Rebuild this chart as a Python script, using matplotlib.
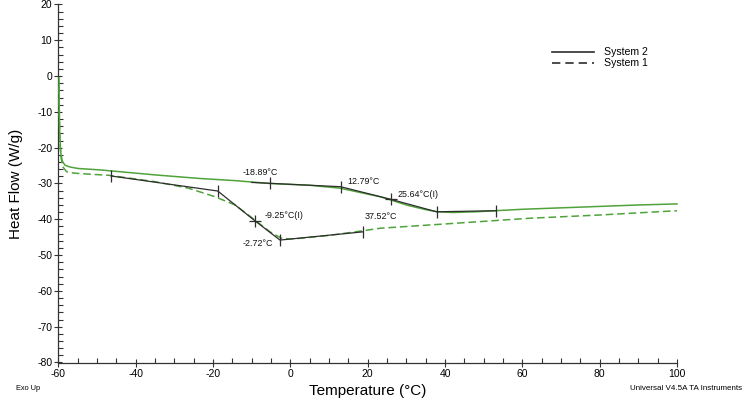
import numpy as np
import matplotlib
matplotlib.use("Agg")
import matplotlib.pyplot as plt
from matplotlib.ticker import MultipleLocator

plt.rcParams['font.family'] = ['Liberation Sans', 'DejaVu Sans']
plt.rcParams['axes.unicode_minus'] = False

# System 2 (solid trace)
sys2_t = [-59.85, -59.8, -59.65, -59.4, -59.0, -58.3, -57.0, -55.0, -49.3, -35.0, -23.4, -14.3,
          -5.3, 5.0, 12.8, 18.0, 23.2, 26.0, 30.0, 35.0, 38.0, 42.0, 48.0, 53.0, 60.0, 70.0,
          80.0, 90.0, 100.0]
sys2_hf = [-0.5, -10.0, -17.0, -21.5, -23.8, -24.9, -25.4, -25.8, -26.2, -27.6, -28.6, -29.2,
           -30.0, -30.5, -31.3, -32.5, -33.7, -34.6, -36.0, -37.3, -37.9, -38.1, -37.9, -37.6,
           -37.2, -36.8, -36.4, -36.0, -35.7]

# System 1 (dashed trace)
sys1_t = [-59.85, -59.75, -59.6, -59.3, -58.9, -57.9, -56.0, -52.0, -47.0, -35.0, -26.4, -19.5,
          -14.3, -9.2, -5.3, -2.3, 0.0, 2.5, 10.0, 18.8, 23.2, 40.0, 62.0, 80.0, 100.0]
sys1_hf = [-3.0, -12.0, -19.0, -23.0, -25.3, -26.7, -27.1, -27.4, -27.7, -29.5, -31.3, -33.7,
           -36.0, -40.2, -43.5, -45.3, -45.5, -45.3, -44.5, -43.2, -42.5, -41.3, -39.7, -38.8,
           -37.6]

# analysis construction lines (onset / midpoint / end)
tan1_t = [-46.4, -18.8, -9.2, -2.7, 18.8]
tan1_hf = [-27.9, -32.1, -40.4, -45.8, -43.5]
tan2_t = [-10.0, -5.3, 13.0, 25.9, 37.8, 53.3]
tan2_hf = [-29.7, -29.95, -30.9, -34.4, -37.9, -37.6]

tick_t = [-46.4, -18.8, -2.7, 18.8, -5.3, 13.0, 37.8, 53.3]
tick_hf = [-27.9, -32.1, -45.8, -43.5, -29.95, -30.9, -37.9, -37.6]
mid_t = [-9.2, 25.9]
mid_hf = [-40.4, -34.4]

labels = ["-18.89°C", "12.79°C", "25.64°C(I)", "-9.25°C(I)", "37.52°C", "-2.72°C"]
label_t = [-12.3, 14.6, 27.6, -6.8, 19.1, -12.3]
label_hf = [-27.0, -29.4, -33.2, -38.8, -39.1, -46.7]

legend_names = ["System 2", "System 1"]
legend_hf = [6.8, 3.6]

green = '#4fa33a'
dark = '#2e2e2e'

fig = plt.figure(figsize=(7.45, 4.0), dpi=100)
ax = fig.add_axes([0.0785, 0.09375, 0.8302, 0.895])

ax.plot(sys1_t, sys1_hf, color=green, lw=1.1, ls=(0, (5, 2.5)), clip_on=False, zorder=3)
ax.plot(sys2_t, sys2_hf, color=green, lw=1.1, clip_on=False, zorder=3)
ax.plot(tan1_t, tan1_hf, color=dark, lw=0.9, zorder=4)
ax.plot(tan2_t, tan2_hf, color=dark, lw=0.9, zorder=4)
ax.plot(tick_t, tick_hf, ls='none', marker='|', ms=8, mew=0.9, color=dark, zorder=4)
ax.plot(mid_t, mid_hf, ls='none', marker='+', ms=9, mew=0.9, color=dark, zorder=4)

for s, x, y in zip(labels, label_t, label_hf):
    ax.text(x, y, s, fontsize=6.4, ha='left', va='center', color='#111111')

# legend drawn by hand in the style of the instrument software
styles = ['-', (0, (5, 3))]
for name, y, st in zip(legend_names, legend_hf, styles):
    ax.plot([67.6, 78.5], [y, y], color=dark, lw=1.2, ls=st)
    ax.text(81.1, y, name, fontsize=7.6, va='center', ha='left')

ax.set_xlim(-60, 100)
ax.set_ylim(-80, 20)
ax.xaxis.set_major_locator(MultipleLocator(20))
ax.xaxis.set_minor_locator(MultipleLocator(5))
ax.yaxis.set_major_locator(MultipleLocator(10))
ax.yaxis.set_minor_locator(MultipleLocator(2))

for sp in ['top', 'right']:
    ax.spines[sp].set_visible(False)
for sp in ['left', 'bottom']:
    ax.spines[sp].set_color('#333333')
    ax.spines[sp].set_linewidth(0.9)

ax.tick_params(which='major', direction='inout', length=6, width=0.8, color='#333333',
               labelsize=7.5, pad=1.5)
ax.tick_params(which='minor', direction='in', length=3.5, width=0.8, color='#333333')

ax.set_xlabel("Temperature (°C)", fontsize=11, labelpad=4)
ax.set_ylabel("Heat Flow (W/g)", fontsize=11, labelpad=10)

fig.text(16 / 745, 1 - 388 / 400, "Exo Up", fontsize=5.3, ha='left', va='center')
fig.text(742 / 745, 1 - 388 / 400, "Universal V4.5A TA Instruments", fontsize=5.8,
         ha='right', va='center')

fig.savefig("out.png", dpi=100)
